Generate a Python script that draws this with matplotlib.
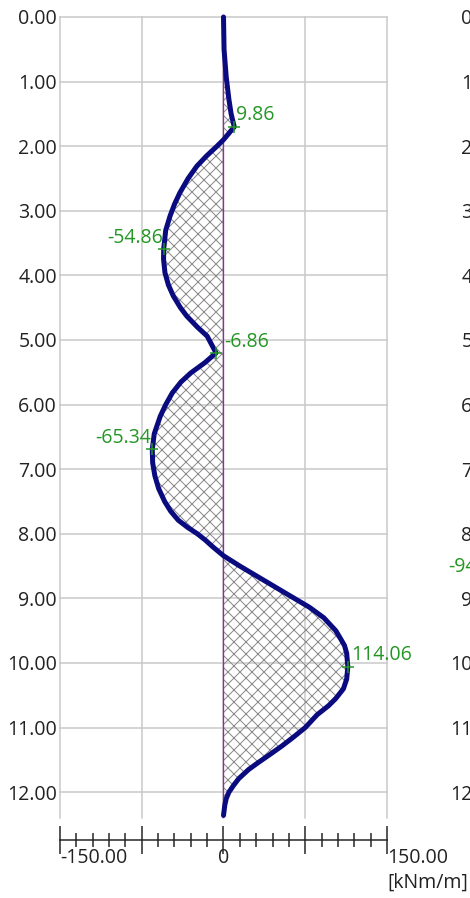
import matplotlib
matplotlib.use("Agg")
import matplotlib.pyplot as plt
import matplotlib.transforms as mtransforms
from matplotlib.ticker import MultipleLocator

plt.rcParams['font.family'] = ['Open Sans', 'DejaVu Sans']
plt.rcParams['hatch.linewidth'] = 1.0

# depth [m] vs bending moment [kNm/m]
depth = [0.00, 0.50, 0.93, 1.28, 1.50, 1.70, 1.80, 1.90, 2.00, 2.15, 2.31, 2.50,
         2.72, 2.90, 3.08, 3.30, 3.59, 3.75, 3.96, 4.15, 4.32, 4.50, 4.63, 4.80,
         4.94, 5.20, 5.35, 5.51, 5.65, 5.82, 6.00, 6.18, 6.45, 6.69, 6.90, 7.10,
         7.30, 7.50, 7.65, 7.79, 7.90, 8.00, 8.10, 8.20, 8.34, 8.50, 8.62, 8.75,
         8.90, 9.00, 9.14, 9.30, 9.50, 9.63, 9.73, 9.85, 10.06, 10.25, 10.40,
         10.55, 10.66, 10.80, 11.00, 11.15, 11.28, 11.40, 11.54, 11.65, 11.79,
         11.90, 12.00, 12.10, 12.20, 12.36]
moment = [0.0, 0.5, 2.5, 5.0, 7.0, 9.86, 5.0, 0.0, -6.0, -15.5, -24.5, -32.5,
          -40.0, -45.0, -49.0, -53.0, -54.86, -55.0, -53.7, -50.5, -46.0, -39.5,
          -33.7, -24.0, -15.0, -6.86, -17.0, -30.0, -39.0, -47.0, -53.0, -58.0,
          -63.5, -65.34, -65.0, -63.0, -59.5, -54.0, -48.5, -41.5, -33.0, -24.0,
          -16.5, -10.0, 0.0, 15.0, 27.0, 40.0, 55.0, 65.0, 79.0, 92.0, 103.0,
          107.6, 111.0, 113.0, 114.06, 113.0, 110.0, 103.0, 96.5, 86.0, 75.0,
          64.0, 54.0, 44.0, 32.0, 23.0, 14.0, 9.0, 5.0, 2.5, 1.2, 0.0]

# extreme values marked on the curve
peak_depth = [1.70, 3.59, 5.20, 6.69, 10.06]
peak_value = [9.86, -54.86, -6.86, -65.34, 114.06]

depth_ticks = list(range(13))
moment_ticks = [-150, -75, 0, 75, 150]
moment_labels = ["-150.00", "", "0", "", "150.00"]
unit_label = "[kNm/m]"

# neighbouring diagram, cut off at the right edge
next_peak_depth = 8.48
next_peak_label = "-94.50"

dark = '#222222'
green = '#239623'
W, H = 470, 898

fig = plt.figure(figsize=(W / 72, H / 72), dpi=72)
ax = fig.add_axes([60 / W, 80 / H, 327 / W, 801 / H])
ax.set_xlim(-150, 150)
ax.set_ylim(12.4, 0)

for s in ['top', 'left', 'right']:
    ax.spines[s].set_visible(False)
ax.spines['bottom'].set_position(('outward', 22))
ax.spines['bottom'].set_color(dark)
ax.spines['bottom'].set_linewidth(1.5)

ax.set_xticks(moment_ticks)
ax.set_xticklabels([])
ax.xaxis.set_minor_locator(MultipleLocator(15))
ax.tick_params(axis='x', which='major', direction='inout', length=28, width=1.5, color=dark)
ax.tick_params(axis='x', which='minor', direction='inout', length=14, width=1.5, color=dark)

ax.set_yticks(depth_ticks)
ax.set_yticklabels([f"{d:.2f}" for d in depth_ticks], fontsize=19.5, color=dark)
ax.tick_params(axis='y', length=0, pad=3)

ax.grid(True, which='major', color='#c8c8c8', linewidth=1.5, zorder=0)
for gl in ax.get_xgridlines() + ax.get_ygridlines():
    gl.set_clip_on(False)
ax.set_axisbelow(True)

ax.fill_betweenx(depth, 0, moment, facecolor='none', edgecolor='#8a8a8a',
                 hatch='xx', linewidth=0, zorder=1)
ax.axvline(0, color='#a020b0', linewidth=1.3, zorder=2)
ax.plot(moment, depth, color='#0b0b80', linewidth=5, solid_capstyle='round',
        solid_joinstyle='round', zorder=3, clip_on=False)

ax.plot(peak_value, peak_depth, linestyle='none', marker='+', markersize=12,
        markeredgewidth=1.5, color=green, zorder=4)
offsets = [(2, 7, 'left'), (-1, 6, 'right'), (8, 6, 'left'), (-1, 6, 'right'), (3, 7, 'left')]
for v, d, (dx, dy, ha) in zip(peak_value, peak_depth, offsets):
    ax.annotate(f"{v:.2f}", (v, d), xytext=(dx, dy), textcoords='offset points',
                ha=ha, va='baseline', fontsize=19.5, color=green, zorder=5)

# bottom axis labels
lab_tr = mtransforms.offset_copy(ax.get_xaxis_transform(), fig=fig, y=-45, units='points')
for x, lab in zip(moment_ticks, moment_labels):
    if lab:
        ax.text(x, 0, lab, transform=lab_tr, ha='center' if x == 0 else 'left',
                va='baseline', fontsize=19.5, color=dark)
unit_tr = mtransforms.offset_copy(ax.get_xaxis_transform(), fig=fig, y=-70, units='points')
ax.text(150, 0, unit_label, transform=unit_tr, ha='left', va='baseline',
        fontsize=19.5, color=dark)

# depth labels of the next diagram (clipped by the figure edge)
right_tr = mtransforms.blended_transform_factory(fig.transFigure, ax.transData)
for d in depth_ticks:
    ax.text(500 / W, d, f"{d:.2f}", transform=right_tr, ha='right', va='center_baseline',
            fontsize=19.5, color=dark)
ax.text(448 / W, next_peak_depth, next_peak_label, transform=right_tr, ha='left',
        va='center_baseline', fontsize=19.5, color=green)

fig.savefig("out.png", dpi=72, facecolor='white')
